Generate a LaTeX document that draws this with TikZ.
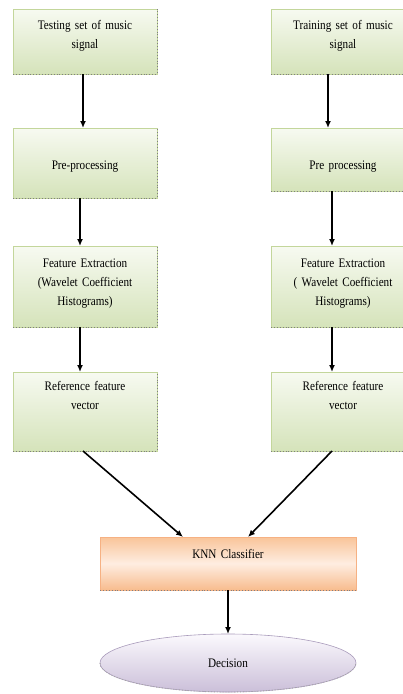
\documentclass[tikz,border=0pt]{standalone}
\usepackage{fontspec}
\setmainfont{Liberation Serif}
\newfontfamily\condfont[FakeStretch=0.86]{Liberation Serif}
\usetikzlibrary{arrows.meta,shapes.geometric}
\definecolor{gtop}{HTML}{F7FAF1}
\definecolor{gbot}{HTML}{D5E3BA}
\definecolor{gline}{HTML}{C3D69B}
\definecolor{otop}{HTML}{F9C499}
\definecolor{omid}{HTML}{FEEDE1}
\definecolor{obot}{HTML}{F8BC8E}
\definecolor{oline}{HTML}{F6B183}
\definecolor{ptop}{HTML}{FBF9FD}
\definecolor{pbot}{HTML}{CBBFD9}
\definecolor{pline}{HTML}{A99BBB}
\tikzset{
  gbox/.style={draw=gline,top color=gtop,bottom color=gbot,line width=0.6pt,align=center,text width=144pt,inner sep=0pt,outer sep=0pt,font=\condfont\fontsize{13}{19}\selectfont},
  obox/.style={draw=oline,top color=otop,bottom color=obot,middle color=omid,line width=0.6pt,align=center,text width=256pt,inner sep=0pt,outer sep=0pt,font=\condfont\fontsize{13}{19}\selectfont},
  decn/.style={ellipse,draw=pline,top color=ptop,bottom color=pbot,line width=0.6pt,minimum width=256pt,minimum height=58pt,inner sep=0pt,outer sep=0pt,font=\condfont\fontsize{13}{19}\selectfont},
  arr/.style={-{Latex[length=7pt,width=6pt]},line width=1.6pt,draw=black},
  shad/.style={draw=black!50,dotted,line width=0.9pt},
}
\begin{document}
\begin{tikzpicture}[x=1pt,y=-1pt]
  \useasboundingbox (0,0) rectangle (403,694);
  % testing column
  \node[gbox,text height=20pt,text depth=45pt] (t1) at (85,41.5) {Testing set of music\\signal};
  \node[gbox,text height=41pt,text depth=29pt] (t2) at (85,163) {Pre-processing};
  \node[gbox,text height=21pt,text depth=60pt] (t3) at (85,286.5) {Feature Extraction\\(Wavelet Coefficient\\Histograms)};
  \node[gbox,text height=18pt,text depth=61pt] (t4) at (85,411.5) {Reference feature\\vector};
  % training column
  \node[gbox,text height=20pt,text depth=45pt] (r1) at (343,41.5) {Training set of music\\signal};
  \node[gbox,text height=41pt,text depth=22pt] (r2) at (343,159.5) {Pre processing};
  \node[gbox,text height=21pt,text depth=60pt] (r3) at (343,286.5) {Feature Extraction\\( Wavelet Coefficient\\Histograms)};
  \node[gbox,text height=18pt,text depth=61pt] (r4) at (343,411.5) {Reference feature\\vector};
  % classifier
  \node[obox,text height=21pt,text depth=32pt] (knn) at (228,563.5) {KNN Classifier};
  \node[decn] (dec) at (228,663) {Decision};
  % shadows
  \foreach \n in {t1,t2,t3,t4} \draw[shad] (\n.south west) -- (\n.south east) -- (\n.north east);
  \foreach \n in {r1,r2,r3,r4,knn} \draw[shad] (\n.south west) -- (\n.south east);
  \draw[shad,draw=black!35] (dec.west) arc[start angle=180,end angle=360,x radius=128pt,y radius=29pt];
  % arrows
  \draw[arr] ([xshift=-2pt]t1.south) -- ([xshift=-2pt]t2.north);
  \draw[arr] ([xshift=-5pt]t2.south) -- ([xshift=-5pt]t3.north);
  \draw[arr] ([xshift=-5pt]t3.south) -- ([xshift=-5pt]t4.north);
  \draw[arr] ([xshift=-15pt]r1.south) -- ([xshift=-15pt]r2.north);
  \draw[arr] ([xshift=-11pt]r2.south) -- ([xshift=-11pt]r3.north);
  \draw[arr] ([xshift=-11pt]r3.south) -- ([xshift=-11pt]r4.north);
  \draw[arr] ([xshift=-2pt]t4.south) -- ([xshift=-45pt]knn.north);
  \draw[arr] ([xshift=-11pt]r4.south) -- ([xshift=20pt]knn.north);
  \draw[arr] (knn) -- (dec);
\end{tikzpicture}
\end{document}
